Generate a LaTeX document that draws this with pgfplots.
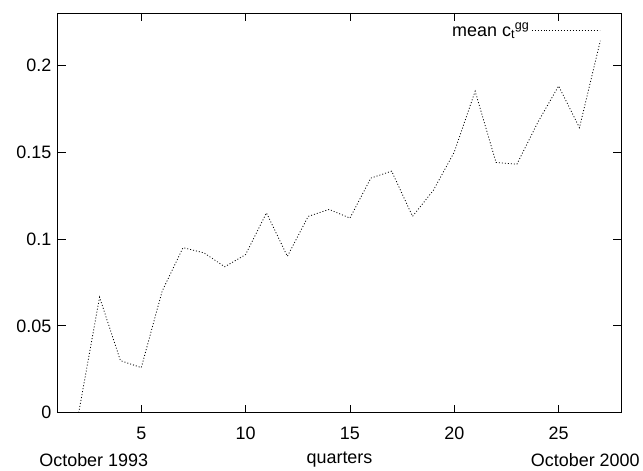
\documentclass[border=0pt]{standalone}
\usepackage{fontspec}
\setmainfont{Liberation Sans}
\usepackage{pgfplots}
\pgfplotsset{compat=1.18}
\pgfplotstableread{
x y
1 0
2 0
3 0.0665
4 0.030
5 0.026
6 0.070
7 0.095
8 0.092
9 0.084
10 0.091
11 0.115
12 0.090
13 0.113
14 0.117
15 0.112
16 0.135
17 0.139
18 0.113
19 0.128
20 0.150
21 0.185
22 0.144
23 0.143
24 0.167
25 0.188
26 0.164
27 0.214
}\meandata
\begin{document}
\begin{tikzpicture}
\begin{axis}[
  name=ax,
  scale only axis,
  width=565pt, height=401pt,
  xmin=1, xmax=28, ymin=0, ymax=0.23,
  xtick={5,10,15,20,25},
  ytick={0,0.05,0.1,0.15,0.2},
  tick align=inside,
  major tick length=8pt,
  axis line style={line width=0.9pt},
  every tick/.style={line width=0.9pt, black},
  /pgf/number format/assume math mode=true,
  yticklabel style={/pgf/number format/fixed, /pgf/number format/precision=2},
  tick label style={font=\fontsize{18}{20}\selectfont},
  xticklabel style={yshift=-11pt},
  yticklabel style={xshift=-3pt},
  xlabel={quarters},
  xlabel style={font=\fontsize{18}{20}\selectfont, at={(rel axis cs:0.5,0)}, anchor=center, yshift=-47pt},
  legend plot pos=right,
  legend cell align=right,
  legend style={at={(rel axis cs:1,1)}, anchor=north east, draw=none, fill=none,
    xshift=-18pt, yshift=-6pt, font=\fontsize{18}{20}\selectfont},
  legend image code/.code={\path (0pt,0pt) -- (14pt,0pt); \draw[#1] (14pt,0pt) -- (68pt,0pt);},
]
\addplot[black, line width=0.8pt, dash pattern=on 1pt off 2pt] table[x=x,y=y] {\meandata};
\addlegendentry{mean c\textsubscript{t}\textsuperscript{gg}}
\end{axis}
\node[font=\fontsize{18}{20}\selectfont] at ([xshift=36pt,yshift=-47pt]ax.south west) {October 1993};
\node[font=\fontsize{18}{20}\selectfont] at ([xshift=-36pt,yshift=-47pt]ax.south east) {October 2000};
\path (ax.south west) ++(-58pt,-57pt) coordinate (bl);
\path (ax.north east) ++(20pt,13pt) coordinate (tr);
\path (bl) rectangle (tr);
\end{tikzpicture}
\end{document}
